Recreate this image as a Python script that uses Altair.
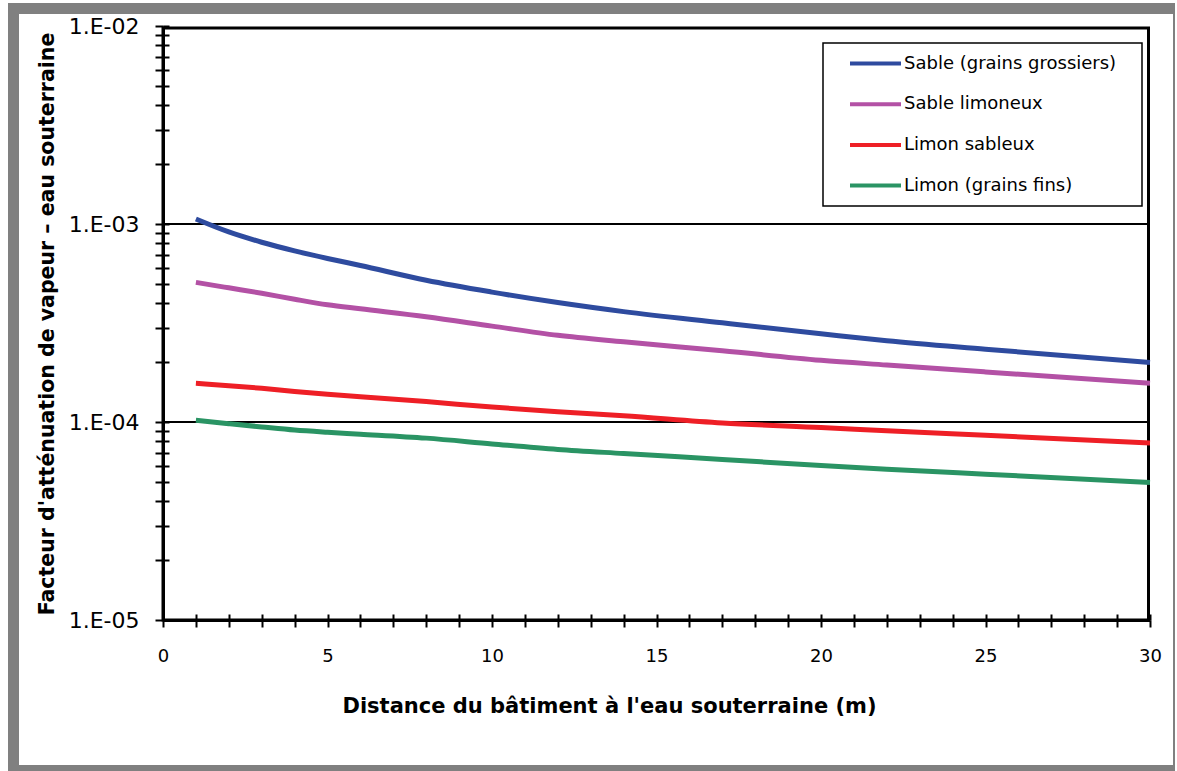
import altair as alt
import pandas as pd

# ---- data ----
distance = [1, 2, 3, 4, 5, 6, 8, 10, 12, 14, 17, 20, 22, 25, 30]
sable_grossiers = [1.06e-3, 9.12e-4, 8.09e-4, 7.32e-4, 6.70e-4, 6.17e-4, 5.20e-4, 4.53e-4,
                   4.01e-4, 3.61e-4, 3.17e-4, 2.79e-4, 2.57e-4, 2.33e-4, 2.00e-4]
sable_limoneux = [5.07e-4, 4.76e-4, 4.47e-4, 4.17e-4, 3.91e-4, 3.73e-4, 3.40e-4, 3.05e-4,
                  2.74e-4, 2.54e-4, 2.29e-4, 2.05e-4, 1.94e-4, 1.79e-4, 1.57e-4]
limon_sableux = [1.57e-4, 1.525e-4, 1.48e-4, 1.426e-4, 1.38e-4, 1.343e-4, 1.268e-4, 1.19e-4,
                 1.127e-4, 1.075e-4, 9.89e-5, 9.38e-5, 9.04e-5, 8.57e-5, 7.84e-5]
limon_fins = [1.02e-4, 9.81e-5, 9.44e-5, 9.10e-5, 8.87e-5, 8.68e-5, 8.29e-5, 7.75e-5,
              7.27e-5, 6.93e-5, 6.47e-5, 6.03e-5, 5.78e-5, 5.45e-5, 4.95e-5]

series_names = ["Sable (grains grossiers)", "Sable limoneux", "Limon sableux", "Limon (grains fins)"]
series_colors = ["#2E4B9F", "#B351A5", "#EE1F26", "#2A9464"]

x_tick_values = list(range(0, 31))
x_label_values = [0, 5, 10, 15, 20, 25, 30]
y_tick_values = [float(f"{k}e{e}") for e in (-5, -4, -3) for k in range(1, 10)] + [1e-2]
y_label_exponents = [-5, -4, -3, -2]
y_labels = ["1.E-05", "1.E-04", "1.E-03", "1.E-02"]
grid_values = [1e-3, 1e-4]

x_title = "Distance du bâtiment à l'eau souterraine (m)"
y_title = "Facteur d'atténuation de vapeur – eau souterraine"

rows = []
for name, vals in zip(series_names, [sable_grossiers, sable_limoneux, limon_sableux, limon_fins]):
    for d, v in zip(distance, vals):
        rows.append({"distance": d, "facteur": v, "sol": name})
df = pd.DataFrame(rows)

W, H = 987, 594

x_label_expr = "indexof([" + ",".join(str(v) for v in x_label_values) + "], datum.value) >= 0 ? datum.label : ''"
y_label_expr = ""
for e, lab in zip(y_label_exponents, y_labels):
    y_label_expr += f"abs(log(datum.value)/LN10 - ({e})) < 0.001 ? '{lab}' : "
y_label_expr += "''"

xscale = alt.Scale(domain=[0, 30], nice=False, zero=False)
yscale = alt.Scale(type="log", domain=[1e-5, 1e-2], nice=False)

x_axis = alt.Axis(values=x_tick_values, labelExpr=x_label_expr, title=x_title,
                  titleFont="DejaVu Sans", titleFontWeight="bold", titleFontSize=21,
                  titleColor="black", titleX=446, titleY=92, titleAlign="center",
                  titleBaseline="alphabetic", labelFont="DejaVu Sans", labelFontSize=18,
                  labelColor="black", labelPadding=20, labelFlush=False, labelOverlap=False,
                  tickSize=7, tickWidth=2, tickColor="black", domainColor="black",
                  domainWidth=3, grid=False, zindex=1)
y_axis = alt.Axis(values=y_tick_values, labelExpr=y_label_expr, title=y_title,
                  titleFont="DejaVu Sans", titleFontWeight="bold", titleFontSize=20.5,
                  titleColor="black", titleX=-110, titleY=297.5, titleAngle=270,
                  titleAlign="center", titleBaseline="alphabetic",
                  labelFont="DejaVu Sans", labelFontSize=22, labelColor="black",
                  labelPadding=16, labelFlush=False, labelOverlap=False,
                  tickSize=8, tickWidth=2, tickColor="black", domainColor="black",
                  domainWidth=3, grid=False, zindex=1)
# inner halves of the crossing ticks
x_axis_in = alt.Axis(orient="top", offset=-H, values=x_tick_values, labels=False, title=None,
                     domain=False, tickSize=6, tickWidth=2, tickColor="black", grid=False, zindex=1)
y_axis_in = alt.Axis(orient="right", offset=-W, values=y_tick_values, labels=False, title=None,
                     domain=False, tickSize=6, tickWidth=2, tickColor="black", grid=False, zindex=1)

one = alt.Data(values=[{}])

gray = alt.Chart(one).mark_rect(color="#808080").encode(
    x=alt.value(-155), x2=alt.value(1012), y=alt.value(-23), y2=alt.value(745))
white = alt.Chart(one).mark_rect(color="white").encode(
    x=alt.value(-144), x2=alt.value(1010), y=alt.value(-12), y2=alt.value(739))
frame = alt.Chart(one).mark_rect(fillOpacity=0, stroke="black", strokeWidth=3).encode(
    x=alt.value(0), x2=alt.value(W - 1.5), y=alt.value(2), y2=alt.value(H))
legend_box = alt.Chart(one).mark_rect(fill="white", stroke="black", strokeWidth=1.5).encode(
    x=alt.value(660), x2=alt.value(979), y=alt.value(17), y2=alt.value(180))

grid = alt.Chart(alt.Data(values=[{"g": g} for g in grid_values])).mark_rule(
    color="black", strokeWidth=2).encode(y=alt.Y("g:Q", scale=yscale, axis=None))

inner_ticks = alt.Chart(df).mark_point(opacity=0).encode(
    x=alt.X("distance:Q", scale=xscale, axis=x_axis_in),
    y=alt.Y("facteur:Q", scale=yscale, axis=y_axis_in),
)

lines = alt.Chart(df).mark_line(strokeWidth=5, clip=False, interpolate="monotone").encode(
    x=alt.X("distance:Q", scale=xscale, axis=x_axis),
    y=alt.Y("facteur:Q", scale=yscale, axis=y_axis),
    color=alt.Color("sol:N", scale=alt.Scale(domain=series_names, range=series_colors),
                    legend=alt.Legend(orient="none", legendX=685, legendY=10, title=None,
                                      padding=0, symbolType="stroke", symbolSize=2601,
                                      symbolStrokeWidth=4, labelFont="DejaVu Sans",
                                      labelFontSize=18, labelColor="black", labelOffset=1,
                                      rowPadding=3.7, labelLimit=400, zindex=1)),
    order=alt.Order("distance:Q"),
)

chart = alt.layer(gray, white, legend_box, grid, frame, inner_ticks, lines).resolve_axis(
    x="independent", y="independent"
).properties(
    width=W, height=H,
    autosize=alt.AutoSizeParams(type="none"),
    padding={"left": 163, "top": 26, "right": 27, "bottom": 151},
    background="white",
).configure_view(strokeWidth=0)

chart.save("out.html", embed_options={"renderer": "svg", "actions": False})
